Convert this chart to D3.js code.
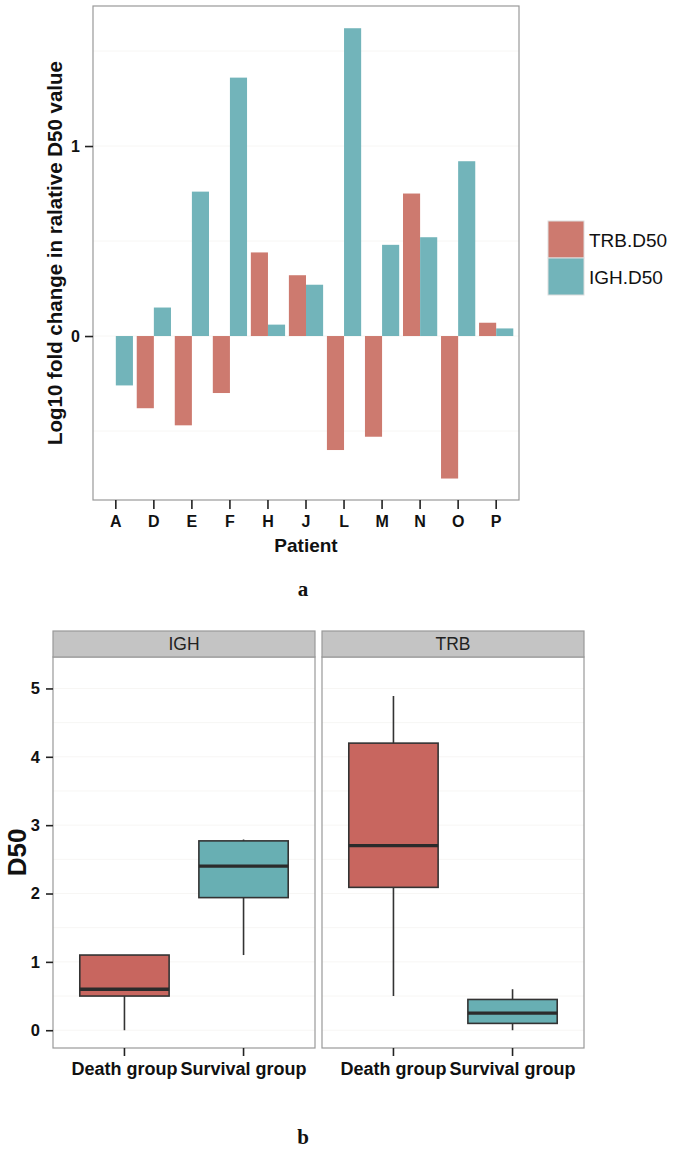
<!DOCTYPE html>
<html>
<head>
<meta charset="utf-8">
<script src="https://cdn.jsdelivr.net/npm/d3@7"></script>
<style>
  body { margin: 0; background: #fff; }
  svg text { font-family: "Liberation Sans", Arial, sans-serif; }
  svg text.serif { font-family: "Liberation Serif", "Times New Roman", serif; }
</style>
</head>
<body>
<svg id="fig" width="675" height="1151"></svg>
<script>
// panel a: log10 fold change per patient
var patients = ["A", "D", "E", "F", "H", "J", "L", "M", "N", "O", "P"];
var trb_d50 = [null, -0.38, -0.47, -0.30, 0.44, 0.32, -0.60, -0.53, 0.75, -0.75, 0.07];
var igh_d50 = [-0.26, 0.15, 0.76, 1.36, 0.06, 0.27, 1.62, 0.48, 0.52, 0.92, 0.04];
var series_names = ["TRB.D50", "IGH.D50"];
var fc_ticks = [0, 1];

// panel b: D50 boxplots by facet
var facets = ["IGH", "TRB"];
var groups = ["Death group", "Survival group"];
var igh_boxes = [
  {lo: 0.0, q1: 0.5, med: 0.6, q3: 1.1, hi: 1.1},
  {lo: 1.1, q1: 1.94, med: 2.4, q3: 2.77, hi: 2.79}
];
var trb_boxes = [
  {lo: 0.5, q1: 2.09, med: 2.7, q3: 4.2, hi: 4.89},
  {lo: 0.0, q1: 0.1, med: 0.25, q3: 0.45, hi: 0.6}
];
var d50_ticks = [0, 1, 2, 3, 4, 5];

var bar_colors = ["#CD7A6F", "#72B4BA"];
var box_colors = ["#C8665F", "#68AFB3"];
var grid_col = "#f7f6f4";

var svg = d3.select("#fig");

// ---------- panel a ----------
var a_left = 93, a_right = 519, a_top = 6, a_bottom = 500;

var x_pat = d3.scaleBand().domain(patients).range([a_left, a_right])
      .paddingInner(0).paddingOuter(0.1);
var y_fc = d3.scaleLinear().domain([-0.863, 1.737]).range([a_bottom, a_top]);

var ga = svg.append("g");

// faint grid
[-0.5, 0.5, 1.5].concat(fc_ticks).forEach(function(v) {
  ga.append("line").attr("x1", a_left).attr("x2", a_right)
    .attr("y1", y_fc(v)).attr("y2", y_fc(v))
    .attr("stroke", grid_col).attr("stroke-width", 1);
});

var bw = x_pat.bandwidth() * 0.45;
[trb_d50, igh_d50].forEach(function(vals, s) {
  ga.append("g").selectAll("rect")
    .data(vals.map(function(v, i) { return {p: patients[i], v: v}; })
      .filter(function(d) { return d.v !== null; }))
    .enter()
    .append("rect")
      .attr("x", function(d) { return x_pat(d.p) + x_pat.bandwidth() / 2 - bw + s * bw; })
      .attr("y", function(d) { return y_fc(Math.max(0, d.v)); })
      .attr("width", bw)
      .attr("height", function(d) { return Math.abs(y_fc(d.v) - y_fc(0)); })
      .attr("fill", bar_colors[s]);
});

ga.append("rect").attr("x", a_left).attr("y", a_top)
  .attr("width", a_right - a_left).attr("height", a_bottom - a_top)
  .attr("fill", "none").attr("stroke", "#999").attr("stroke-width", 1.2);

var ax_a = ga.append("g").attr("transform", "translate(0," + a_bottom + ")")
  .call(d3.axisBottom(x_pat).tickSize(9).tickPadding(7));
ax_a.select(".domain").remove();
ax_a.selectAll("line").attr("stroke", "#222").attr("stroke-width", 1.6);
ax_a.selectAll("text").attr("font-size", 16).attr("font-weight", "bold")
  .attr("fill", "#111");

var ay_a = ga.append("g").attr("transform", "translate(" + a_left + ",0)")
  .call(d3.axisLeft(y_fc).tickValues(fc_ticks).tickFormat(d3.format("d"))
    .tickSize(8).tickPadding(5));
ay_a.select(".domain").remove();
ay_a.selectAll("line").attr("stroke", "#222").attr("stroke-width", 1.6);
ay_a.selectAll("text").attr("font-size", 16).attr("font-weight", "bold")
  .attr("fill", "#111");

ga.append("text").attr("x", (a_left + a_right) / 2).attr("y", 552)
  .attr("text-anchor", "middle").attr("font-size", 19).attr("font-weight", "bold")
  .attr("fill", "#111").text("Patient");
ga.append("text")
  .attr("transform", "translate(62," + ((a_top + a_bottom) / 2) + ") rotate(-90)")
  .attr("text-anchor", "middle").attr("font-size", 20.5).attr("font-weight", "bold")
  .attr("fill", "#111").text("Log10 fold change in ralative D50 value");

// legend
series_names.forEach(function(name, i) {
  ga.append("rect").attr("x", 548).attr("y", 221 + i * 37)
    .attr("width", 36).attr("height", 37)
    .attr("fill", bar_colors[i]).attr("stroke", "#ddd").attr("stroke-width", 1);
  ga.append("text").attr("x", 589).attr("y", 246.5 + i * 37)
    .attr("font-size", 19).attr("fill", "#111").text(name);
});

svg.append("text").attr("class", "serif").attr("x", 303).attr("y", 596)
  .attr("text-anchor", "middle")
  .attr("font-size", 21).attr("font-weight", "bold").attr("fill", "#111").text("a");

// ---------- panel b ----------
var b_top = 657, b_bottom = 1048, strip_top = 631;
var facet_ranges = [[53, 315], [322, 584]];
var y_d50 = d3.scaleLinear().domain([-0.26, 5.46]).range([b_bottom, b_top]);

facets.forEach(function(f, fi) {
  var r = facet_ranges[fi];
  var boxes = fi === 0 ? igh_boxes : trb_boxes;
  var x_grp = d3.scaleBand().domain(groups).range(r).paddingInner(0).paddingOuter(0.1);
  var g = svg.append("g");

  [0.5, 1.5, 2.5, 3.5, 4.5].concat(d50_ticks).forEach(function(v) {
    g.append("line").attr("x1", r[0]).attr("x2", r[1])
      .attr("y1", y_d50(v)).attr("y2", y_d50(v))
      .attr("stroke", grid_col).attr("stroke-width", 1);
  });

  var box_w = x_grp.bandwidth() * 0.75;
  var bx = g.selectAll("g.box")
    .data(boxes.map(function(b, i) { return {grp: groups[i], b: b, i: i}; }))
    .enter().append("g").attr("class", "box");

  bx.append("line")
    .attr("x1", function(d) { return x_grp(d.grp) + x_grp.bandwidth() / 2; })
    .attr("x2", function(d) { return x_grp(d.grp) + x_grp.bandwidth() / 2; })
    .attr("y1", function(d) { return y_d50(d.b.lo); })
    .attr("y2", function(d) { return y_d50(d.b.hi); })
    .attr("stroke", "#333").attr("stroke-width", 1.6);
  bx.append("rect")
    .attr("x", function(d) { return x_grp(d.grp) + (x_grp.bandwidth() - box_w) / 2; })
    .attr("y", function(d) { return y_d50(d.b.q3); })
    .attr("width", box_w)
    .attr("height", function(d) { return y_d50(d.b.q1) - y_d50(d.b.q3); })
    .attr("fill", function(d) { return box_colors[d.i]; })
    .attr("stroke", "#333").attr("stroke-width", 1.6);
  bx.append("line")
    .attr("x1", function(d) { return x_grp(d.grp) + (x_grp.bandwidth() - box_w) / 2; })
    .attr("x2", function(d) { return x_grp(d.grp) + (x_grp.bandwidth() + box_w) / 2; })
    .attr("y1", function(d) { return y_d50(d.b.med); })
    .attr("y2", function(d) { return y_d50(d.b.med); })
    .attr("stroke", "#2b2b2b").attr("stroke-width", 3.4);

  g.append("rect").attr("x", r[0]).attr("y", b_top)
    .attr("width", r[1] - r[0]).attr("height", b_bottom - b_top)
    .attr("fill", "none").attr("stroke", "#999").attr("stroke-width", 1.2);

  // strip
  g.append("rect").attr("x", r[0]).attr("y", strip_top)
    .attr("width", r[1] - r[0]).attr("height", b_top - strip_top)
    .attr("fill", "#c4c4c4").attr("stroke", "#999").attr("stroke-width", 1.2);
  g.append("text").attr("x", (r[0] + r[1]) / 2).attr("y", b_top - 7)
    .attr("text-anchor", "middle").attr("font-size", 17.5).attr("fill", "#222").text(f);

  var axb = g.append("g").attr("transform", "translate(0," + b_bottom + ")")
    .call(d3.axisBottom(x_grp).tickSize(8).tickPadding(6));
  axb.select(".domain").remove();
  axb.selectAll("line").attr("stroke", "#222").attr("stroke-width", 1.6);
  axb.selectAll("text").attr("font-size", 18).attr("font-weight", "bold")
    .attr("fill", "#111");
});

var ay_b = svg.append("g").attr("transform", "translate(53,0)")
  .call(d3.axisLeft(y_d50).tickValues(d50_ticks).tickFormat(d3.format("d"))
    .tickSize(7).tickPadding(6));
ay_b.select(".domain").remove();
ay_b.selectAll("line").attr("stroke", "#222").attr("stroke-width", 1.6);
ay_b.selectAll("text").attr("font-size", 16.5).attr("font-weight", "bold").attr("fill", "#111");

svg.append("text")
  .attr("transform", "translate(26," + ((b_top + b_bottom) / 2) + ") rotate(-90)")
  .attr("text-anchor", "middle").attr("font-size", 26).attr("font-weight", "bold")
  .attr("fill", "#111").text("D50");

svg.append("text").attr("class", "serif").attr("x", 303).attr("y", 1144)
  .attr("text-anchor", "middle")
  .attr("font-size", 21).attr("font-weight", "bold").attr("fill", "#111").text("b");
</script>
</body>
</html>
